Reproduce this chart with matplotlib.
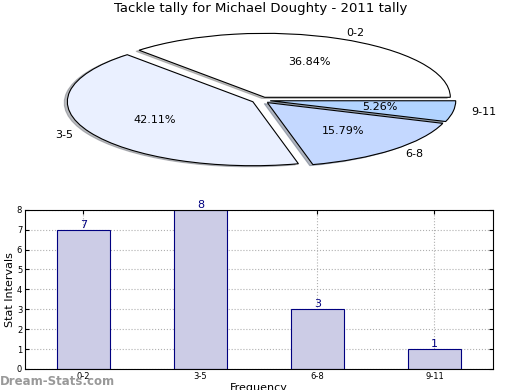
import matplotlib
matplotlib.use("Agg")
import matplotlib.pyplot as plt

# data
categories = ['0-2', '3-5', '6-8', '9-11']
counts = [7, 8, 3, 1]
pie_colors = ['#FFFFFF', '#EAF0FF', '#C4D8FF', '#B2D4FF']
title = 'Tackle tally for Michael Doughty - 2011 tally'

fig = plt.figure(figsize=(5.2, 3.9), dpi=100)

# pie (squashed, aspect auto)
ax1 = fig.add_axes([0.056, 0.538, 0.892, 0.41])
ax1.pie(counts, labels=categories, colors=pie_colors, autopct='%.2f%%',
        explode=[0.05] * len(counts),
        shadow={'ox': -0.012, 'oy': -0.012, 'shade': 0.5}, startangle=0,
        wedgeprops={'edgecolor': 'black', 'linewidth': 0.8},
        textprops={'fontsize': 8})
ax1.set_aspect('auto')
ax1.set_xlim(-1.25, 1.25)
ax1.set_ylim(-1.25, 1.25)
ax1.set_title(title, fontsize=9.5, pad=6)

# bars
ax2 = fig.add_axes([0.048, 0.054, 0.9, 0.408])
x = range(len(categories))
ax2.bar(x, counts, width=0.45, color='#CCCCE6', edgecolor='#000080',
        linewidth=0.8, zorder=2)
for i, v in enumerate(counts):
    ax2.text(i, v, str(v), ha='center', va='bottom', color='#000080',
             fontsize=8, zorder=3)
ax2.set_xlim(-0.5, 3.5)
ax2.set_ylim(0, 8)
ax2.set_xticks(list(x))
ax2.set_xticklabels(categories)
ax2.tick_params(labelsize=6, direction='in', length=3, top=True, right=True, pad=2)
ax2.grid(True, linestyle=':', color='#b0b0b0', linewidth=0.8, zorder=0)
ax2.set_axisbelow(True)
ax2.set_xlabel('Frequency', fontsize=8, labelpad=2)
ax2.set_ylabel('Stat Intervals', fontsize=8, labelpad=1)

fig.text(0.0, 0.012, 'Dream-Stats.com', fontsize=8.5, color='#999999',
         fontweight='bold')

fig.savefig('out.png', dpi=100)
